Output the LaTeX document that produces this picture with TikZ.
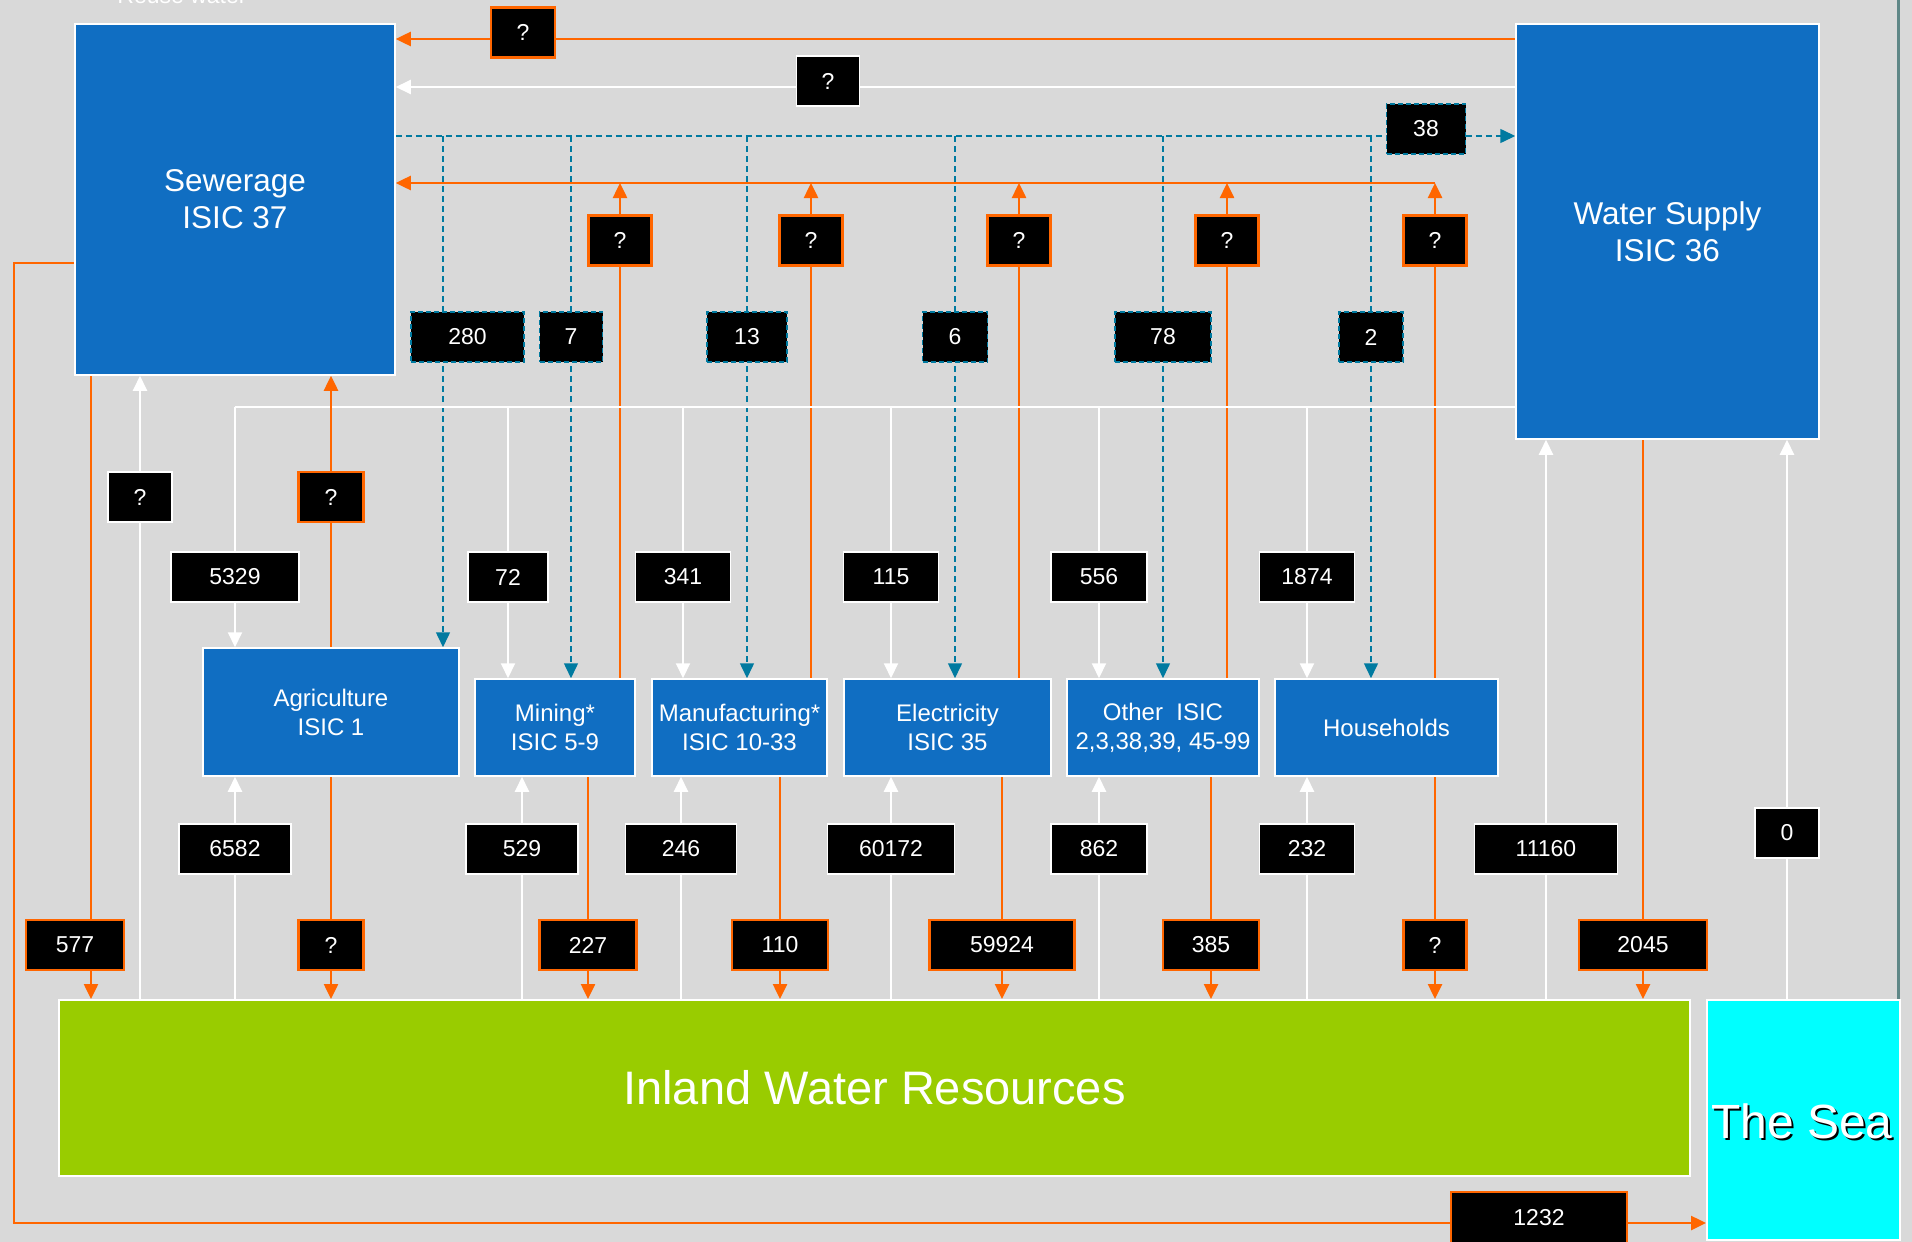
\documentclass[tikz,border=0pt]{standalone}
\usepackage{fontspec}
\setmainfont{Liberation Sans}
\usetikzlibrary{arrows.meta,positioning,calc}
\definecolor{bgray}{RGB}{217,217,217}
\definecolor{isicblue}{RGB}{16,110,194}
\definecolor{flowor}{RGB}{255,102,0}
\definecolor{reuseteal}{RGB}{0,122,160}
\definecolor{inland}{RGB}{153,204,0}
\definecolor{seacyan}{RGB}{0,255,255}
\definecolor{edgeline}{RGB}{95,135,135}
\pgfdeclarelayer{back}
\pgfdeclarelayer{wires}
\pgfsetlayers{back,wires,main}
\tikzset{
    isic/.style={draw=white, line width=1.5pt, fill=isicblue, text=white, align=center, inner sep=0pt, font=\fontsize{24}{29}\selectfont},
    bigisic/.style={isic, font=\fontsize{31.5}{37}\selectfont},
    qwh/.style={draw=white, line width=1.5pt, fill=black, text=white, inner sep=0pt, minimum height=50pt, font=\fontsize{23}{27}\selectfont},
    qor/.style={qwh, draw=flowor, line width=2.5pt},
    qdash/.style={qwh, draw=reuseteal, dash pattern=on 5pt off 3pt},
    oflow/.style={flowor, line width=2.5pt},
    wflow/.style={white, line width=2pt},
    dflow/.style={reuseteal, line width=1.5pt, dash pattern=on 6pt off 4pt}
}
\begin{document}
\begin{tikzpicture}[x=1pt, y=-1pt, >={Triangle[width=14pt,length=15pt]}]
    \useasboundingbox (0,0) rectangle (1912,1242);
    \begin{pgfonlayer}{back}
    \fill [bgray] (0,0) rectangle (1912,1242);
    \draw [edgeline, line width=3pt] (1898,0) -- (1898,1000);
    \end{pgfonlayer}

    % units
    \node [white, font=\fontsize{23}{27}\selectfont, anchor=base] (reuse) at (182,3) {Reuse water};
    \node [bigisic, minimum width=320pt, minimum height=351pt] (sew) at (235,199.5) {Sewerage\\ISIC 37};
    \node [bigisic, minimum width=303pt, minimum height=415pt] (ws) at (1667.5,231.5) {Water Supply\\ISIC 36};
    \node [isic, minimum width=256pt, minimum height=128pt] (agri) at (331,712) {Agriculture\\ISIC 1};
    \node [isic, minimum width=160pt, minimum height=97pt] (mine) at (555,727.5) {Mining*\\ISIC 5-9};
    \node [isic, minimum width=175pt, minimum height=97pt] (manu) at (739.5,727.5) {Manufacturing*\\ISIC 10-33};
    \node [isic, minimum width=207pt, minimum height=97pt] (elec) at (947.5,727.5) {Electricity\\ISIC 35};
    \node [isic, minimum width=192pt, minimum height=97pt] (oth) at (1163,727.5) {Other\ \ ISIC\\2,3,38,39, 45-99};
    \node [isic, minimum width=223pt, minimum height=97pt] (hh) at (1386.5,727.5) {Households};
    \node [draw=white, line width=2pt, fill=inland, text=white, minimum width=1631pt, minimum height=176pt, font=\fontsize{47}{56}\selectfont] (iwr) at (874.5,1088) {Inland Water Resources};
    \node [draw=white, line width=2pt, fill=seacyan, minimum width=193pt, minimum height=240pt] (sea) at (1803.5,1120) {};
    \node [black, font=\fontsize{48}{56}\selectfont] (seashadow) at (1804,1123) {The Sea};
    \node [white, font=\fontsize{48}{56}\selectfont] (seatext) at (1802,1121) {The Sea};

    % flow values
    \node [qor, minimum width=64pt] (qtop) at (523,32.5) {?};
    \node [qwh, minimum width=63pt] (qmid) at (828,81) {?};
    \node [qdash, minimum width=79pt] (d38) at (1426,129) {38};
    \node [qor, minimum width=63pt] (qmine) at (620,240.5) {?};
    \node [qor, minimum width=63pt] (qmanu) at (811,240.5) {?};
    \node [qor, minimum width=63pt] (qelec) at (1019,240.5) {?};
    \node [qor, minimum width=63pt] (qoth) at (1227,240.5) {?};
    \node [qor, minimum width=63pt] (qhh) at (1435,240.5) {?};
    \node [qdash, minimum width=113pt] (d280) at (467.5,337) {280};
    \node [qdash, minimum width=63pt] (d7) at (571,337) {7};
    \node [qdash, minimum width=80pt] (d13) at (747,337) {13};
    \node [qdash, minimum width=65pt] (d6) at (955,337) {6};
    \node [qdash, minimum width=96pt] (d78) at (1163,337) {78};
    \node [qdash, minimum width=64pt] (d2) at (1371,337) {2};
    \node [qwh, minimum width=64pt] (qsup) at (140,497) {?};
    \node [qor, minimum width=65pt] (qagri) at (331,497) {?};
    \node [qwh, minimum width=128pt] (s5329) at (235,577) {5329};
    \node [qwh, minimum width=80pt] (s72) at (508,577) {72};
    \node [qwh, minimum width=95pt] (s341) at (683,577) {341};
    \node [qwh, minimum width=95pt] (s115) at (891,577) {115};
    \node [qwh, minimum width=96pt] (s556) at (1099,577) {556};
    \node [qwh, minimum width=95pt] (s1874) at (1307,577) {1874};
    \node [qwh, minimum width=112pt] (a6582) at (235,849) {6582};
    \node [qwh, minimum width=112pt] (a529) at (522,849) {529};
    \node [qwh, minimum width=111pt] (a246) at (681,849) {246};
    \node [qwh, minimum width=127pt] (a60172) at (891,849) {60172};
    \node [qwh, minimum width=96pt] (a862) at (1099,849) {862};
    \node [qwh, minimum width=95pt] (a232) at (1307,849) {232};
    \node [qwh, minimum width=143pt] (a11160) at (1546,849) {11160};
    \node [qwh, minimum width=64pt] (a0) at (1787,833) {0};
    \node [qor, minimum width=98pt] (r577) at (75,945) {577};
    \node [qor, minimum width=65pt] (ragri) at (331,945) {?};
    \node [qor, minimum width=97pt] (r227) at (588,945) {227};
    \node [qor, minimum width=96pt] (r110) at (780,945) {110};
    \node [qor, minimum width=145pt] (r59924) at (1002,945) {59924};
    \node [qor, minimum width=96pt] (r385) at (1211,945) {385};
    \node [qor, minimum width=63pt] (rhh) at (1435,945) {?};
    \node [qor, minimum width=128pt] (r2045) at (1643,945) {2045};
    \node [qor, minimum width=176pt, minimum height=52pt] (r1232) at (1539,1218) {1232};

    \coordinate (yo) at (0,39);
    \coordinate (yw) at (0,87);
    \coordinate (yd) at (0,136);
    \coordinate (yr) at (1435,183);
    \coordinate (yb) at (235,407);
    \coordinate (ys) at (0,263);
    \coordinate (x280) at (443,0);
    \coordinate (x577) at (91,0);
    \coordinate (seaout) at (14,1223);

    \begin{pgfonlayer}{wires}
    \draw [oflow,->] (ws.west |- yo) -- (sew.east |- yo);
    \draw [wflow,->] (ws.west |- yw) -- (sew.east |- yw);
    \draw [dflow,->] (sew.east |- yd) -- (ws.west |- yd);
    \draw [dflow,->] (x280 |- yd) -- (x280 |- agri.north);
    \draw [dflow,->] (d7 |- yd) -- (d7 |- mine.north);
    \draw [dflow,->] (d13 |- yd) -- (d13 |- manu.north);
    \draw [dflow,->] (d6 |- yd) -- (d6 |- elec.north);
    \draw [dflow,->] (d78 |- yd) -- (d78 |- oth.north);
    \draw [dflow,->] (d2 |- yd) -- (d2 |- hh.north);
    \draw [oflow,->] (yr) -- (sew.east |- yr);
    \draw [oflow,->] (qmine |- mine.north) -- (qmine |- yr);
    \draw [oflow,->] (qmanu |- manu.north) -- (qmanu |- yr);
    \draw [oflow,->] (qelec |- elec.north) -- (qelec |- yr);
    \draw [oflow,->] (qoth |- oth.north) -- (qoth |- yr);
    \draw [oflow,->] (qhh |- hh.north) -- (yr);
    \draw [wflow] (yb) -- (ws.west |- yb);
    \draw [wflow,->] (yb) -- (yb |- agri.north);
    \draw [wflow,->] (s72 |- yb) -- (s72 |- mine.north);
    \draw [wflow,->] (s341 |- yb) -- (s341 |- manu.north);
    \draw [wflow,->] (s115 |- yb) -- (s115 |- elec.north);
    \draw [wflow,->] (s556 |- yb) -- (s556 |- oth.north);
    \draw [wflow,->] (s1874 |- yb) -- (s1874 |- hh.north);
    \draw [oflow,->] (x577 |- sew.south) -- (x577 |- iwr.north);
    \draw [wflow,->] (qsup |- iwr.north) -- (qsup |- sew.south);
    \draw [oflow,->] (qagri |- agri.north) -- (qagri |- sew.south);
    \draw [wflow,->] (a6582 |- iwr.north) -- (a6582 |- agri.south);
    \draw [wflow,->] (a529 |- iwr.north) -- (a529 |- mine.south);
    \draw [wflow,->] (a246 |- iwr.north) -- (a246 |- manu.south);
    \draw [wflow,->] (a60172 |- iwr.north) -- (a60172 |- elec.south);
    \draw [wflow,->] (a862 |- iwr.north) -- (a862 |- oth.south);
    \draw [wflow,->] (a232 |- iwr.north) -- (a232 |- hh.south);
    \draw [wflow,->] (a11160 |- iwr.north) -- (a11160 |- ws.south);
    \draw [wflow,->] (a0 |- sea.north) -- (a0 |- ws.south);
    \draw [oflow,->] (ragri |- agri.south) -- (ragri |- iwr.north);
    \draw [oflow,->] (r227 |- mine.south) -- (r227 |- iwr.north);
    \draw [oflow,->] (r110 |- manu.south) -- (r110 |- iwr.north);
    \draw [oflow,->] (r59924 |- elec.south) -- (r59924 |- iwr.north);
    \draw [oflow,->] (r385 |- oth.south) -- (r385 |- iwr.north);
    \draw [oflow,->] (rhh |- hh.south) -- (rhh |- iwr.north);
    \draw [oflow,->] (r2045 |- ws.south) -- (r2045 |- iwr.north);
    \draw [oflow,->] (sew.west |- ys) -| (seaout) -- (sea.west |- seaout);
    \end{pgfonlayer}
\end{tikzpicture}
\end{document}
